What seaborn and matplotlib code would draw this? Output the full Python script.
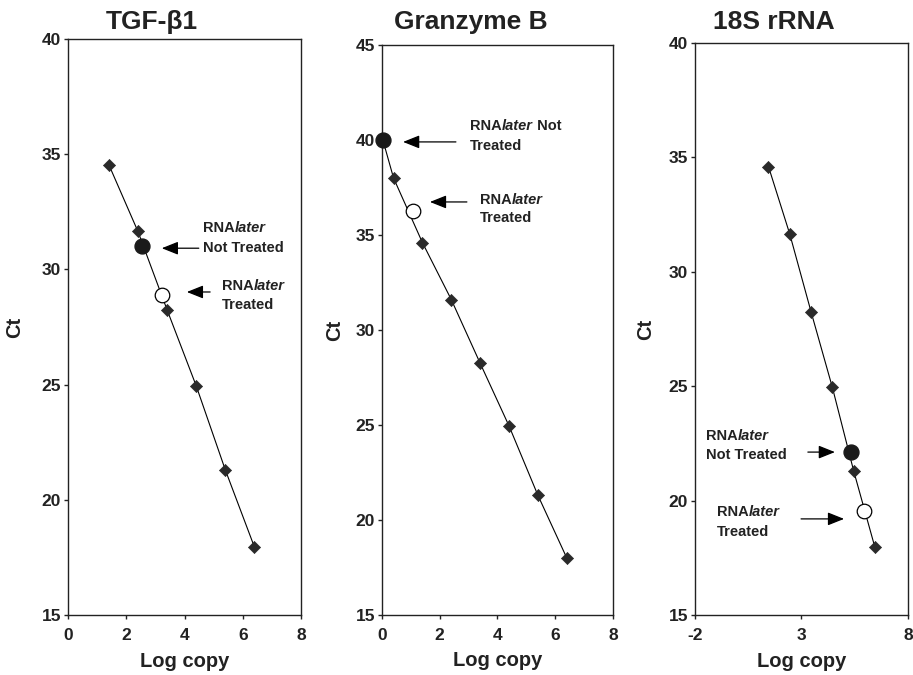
"""
Curvas padrão de qPCR (Ct vs Log copy) - TGF-β1, Granzyme B, 18S rRNA
"""
import matplotlib.pyplot as plt
import seaborn as sns
import pandas as pd

plt.switch_backend('Agg')

# --- dados ---
tgf_log = [1.4, 2.4, 3.4, 4.4, 5.4, 6.4]
tgf_ct = [34.55, 31.65, 28.25, 24.95, 21.3, 17.95]
tgf_not_treated = [2.55, 31.0]
tgf_treated = [3.22, 28.88]

gzb_log = [0.4, 1.4, 2.4, 3.4, 4.4, 5.4, 6.4]
gzb_ct = [38.0, 34.6, 31.6, 28.25, 24.95, 21.3, 18.0]
gzb_not_treated = [0.03, 40.0]
gzb_treated = [1.08, 36.27]

s18_log = [1.45, 2.45, 3.45, 4.45, 5.45, 6.45]
s18_ct = [34.6, 31.65, 28.25, 24.95, 21.3, 17.95]
s18_not_treated = [5.32, 22.12]
s18_treated = [5.93, 19.55]

titles = ['TGF-β1', 'Granzyme B', '18S rRNA']

sns.set_style('ticks')
plt.rcParams['font.family'] = ['Liberation Sans', 'DejaVu Sans']
plt.rcParams['font.weight'] = 'bold'
plt.rcParams['axes.unicode_minus'] = False

ANN_FS = 10.5


def rna_label(ax, x, y1, y2, tail_first, second_line):
    """Escreve 'RNAlater' (later em itálico) + segunda linha"""
    t = ax.text(x, y1, 'RNA', fontsize=ANN_FS, fontweight='bold', va='center', ha='left',
                color='#222222')
    t2 = ax.annotate('later', xy=(1, 0), xycoords=t, va='bottom', ha='left',
                     fontsize=ANN_FS, fontweight='bold', fontstyle='italic', color='#222222')
    if tail_first:
        ax.annotate(' ' + tail_first, xy=(1, 0), xycoords=t2, va='bottom', ha='left',
                    fontsize=ANN_FS, fontweight='bold', color='#222222')
    ax.text(x, y2, second_line, fontsize=ANN_FS, fontweight='bold', va='center', ha='left',
            color='#222222')


def arrow(ax, tail, head):
    ax.annotate('', xy=head, xytext=tail,
                arrowprops=dict(arrowstyle='-|>,head_length=1.0,head_width=0.4',
                                color='black', lw=0.9, shrinkA=0, shrinkB=0,
                                mutation_scale=10))


def painel(ax, log, ct, not_treated, treated, line_log=None, line_ct=None):
    df = pd.DataFrame({'log': log, 'ct': ct})
    if line_log is None:
        line_log, line_ct = log, ct
    sns.lineplot(x=line_log, y=line_ct, color='black', lw=0.8, sort=False,
                 estimator=None, ax=ax, zorder=2)
    sns.scatterplot(data=df, x='log', y='ct', marker='D', s=38, color='#2a2a2a',
                    edgecolor='#2a2a2a', linewidth=0.5, ax=ax, zorder=3)
    ax.scatter([not_treated[0]], [not_treated[1]], s=115, color='#1a1a1a',
               edgecolor='#1a1a1a', zorder=4, clip_on=False)
    ax.scatter([treated[0]], [treated[1]], s=110, color='white',
               edgecolor='black', linewidth=0.9, zorder=4, clip_on=False)


fig = plt.figure(figsize=(9.13, 6.75), dpi=100)
ax1 = fig.add_axes([0.0745, 0.0889, 0.2552, 0.8533])
ax2 = fig.add_axes([0.4184, 0.0889, 0.2530, 0.8444])
ax3 = fig.add_axes([0.7612, 0.0889, 0.2333, 0.8474])

painel(ax1, tgf_log, tgf_ct, tgf_not_treated, tgf_treated)
painel(ax2, gzb_log, gzb_ct, gzb_not_treated, gzb_treated,
       line_log=[gzb_not_treated[0]] + gzb_log, line_ct=[gzb_not_treated[1]] + gzb_ct)
painel(ax3, s18_log, s18_ct, s18_not_treated, s18_treated)

# eixos
ax1.set_xlim(0, 8); ax1.set_ylim(15, 40)
ax1.set_xticks([0, 2, 4, 6, 8]); ax1.set_yticks([15, 20, 25, 30, 35, 40])
ax2.set_xlim(0, 8); ax2.set_ylim(15, 45)
ax2.set_xticks([0, 2, 4, 6, 8]); ax2.set_yticks([15, 20, 25, 30, 35, 40, 45])
ax3.set_xlim(-2, 8); ax3.set_ylim(15, 40)
ax3.set_xticks([-2, 3, 8]); ax3.set_yticks([15, 20, 25, 30, 35, 40])

ylab_x = [-0.187, -0.165, -0.185]
for ax, ttl, yx in zip([ax1, ax2, ax3], titles, ylab_x):
    for side in ['left', 'bottom', 'top', 'right']:
        ax.spines[side].set_visible(True)
        ax.spines[side].set_color('#222222')
        ax.spines[side].set_linewidth(1.0)
    ax.tick_params(axis='x', direction='out', length=3, width=1, pad=6.5,
                   labelsize=12.5, colors='#222222')
    ax.tick_params(axis='y', direction='out', length=3, width=1, pad=2,
                   labelsize=12.5, colors='#222222')
    for lbl in ax.get_xticklabels() + ax.get_yticklabels():
        lbl.set_fontweight('bold')
    ax.set_xlabel('Log copy', fontsize=14.5, fontweight='bold', color='#222222')
    ax.set_ylabel('Ct', fontsize=14.5, fontweight='bold', color='#222222')
    ax.xaxis.set_label_coords(0.5, -0.064)
    ax.yaxis.set_label_coords(yx, 0.5)
    ax.xaxis.label.set_va('top')

# títulos (levemente à esquerda do centro do eixo, como no original)
for xf, ttl in zip([0.1665, 0.5159, 0.8477], titles):
    fig.text(xf, 0.967, ttl, fontsize=19, fontweight='bold', ha='center', va='center',
             color='#222222')

# anotações
rna_label(ax1, 4.63, 31.8, 30.95, None, 'Not Treated')
arrow(ax1, (4.49, 30.92), (3.22, 30.92))
rna_label(ax1, 5.29, 29.3, 28.45, None, 'Treated')
arrow(ax1, (4.88, 29.02), (4.08, 29.02))

rna_label(ax2, 3.05, 40.74, 39.68, 'Not', 'Treated')
arrow(ax2, (2.56, 39.9), (0.73, 39.9))
rna_label(ax2, 3.39, 36.84, 35.9, None, 'Treated')
arrow(ax2, (2.94, 36.74), (1.66, 36.74))

rna_label(ax3, -1.48, 22.82, 21.99, None, 'Not Treated')
arrow(ax3, (3.3, 22.12), (4.57, 22.12))
rna_label(ax3, -0.97, 19.5, 18.63, None, 'Treated')
arrow(ax3, (2.98, 19.2), (5.0, 19.2))

fig.savefig('out.png', dpi=100, facecolor='white')
plt.close(fig)
